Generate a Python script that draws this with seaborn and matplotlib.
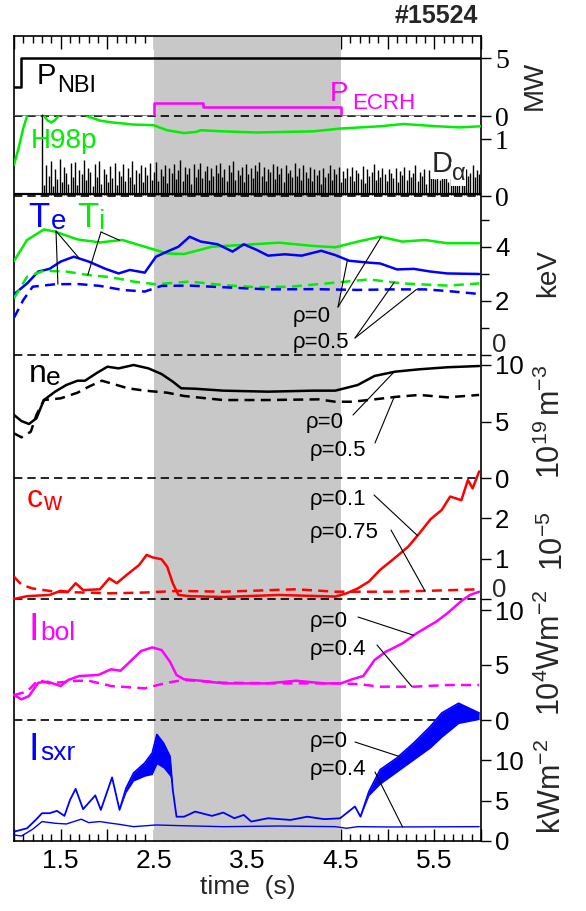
import numpy as np
import matplotlib
matplotlib.use('Agg')
import matplotlib.pyplot as plt
import seaborn as sns
from matplotlib.ticker import MultipleLocator, FuncFormatter

# ---------------- data ----------------
nbi_t = [1.0, 1.07, 6.0]
nbi_p = [2.5, 5.0, 5.0]
ecrh_t = [1.0, 2.5, 3.02, 4.5, 5.65]
ecrh_p = [0.0, 1.1, 0.76, 0.0, 0.0]

h98_t = [1.0, 1.05, 1.10, 1.14, 1.20, 1.28, 1.32, 1.36, 1.40, 1.44, 1.48, 1.55, 1.70, 1.78,
         1.92, 2.04, 2.28, 2.49, 2.64, 2.82, 2.95, 3.0, 3.24, 3.6, 4.2, 4.5, 4.92, 5.17, 5.53, 5.77, 6.0]
h98 = [0.55, 0.85, 1.2, 1.41, 1.6, 1.55, 1.42, 1.33, 1.30, 1.34, 1.42, 1.55, 1.55, 1.41,
       1.33, 1.30, 1.26, 1.25, 1.16, 1.11, 1.13, 1.16, 1.14, 1.12, 1.14, 1.19, 1.23, 1.27, 1.23, 1.21, 1.23]

da_t0, da_t1 = 1.30, 5.98
da_h = [1.45, .20, .55, .35, .62, .18, .48, .30, .66, .25, .52, .40, .22, .58, .33, .60, .19, .45, .38, .64,
        .28, .50, .42, .18, .56, .34, .61, .22, .47, .39, .25, .53, .31, .59, .20, .44, .36, .57, .27, .49,
        .33, .62, .21, .46, .40, .55, .24, .51, .37, .58, .29, .43, .60, .26, .48, .35, .54, .23, .50, .41,
        .57, .30, .45, .63, .27, .52, .38, .49, .22, .56, .34, .47, .59, .31, .44, .53, .28, .50, .36, .55,
        .40, .58, .33, .48, .26, .54, .42, .61, .29, .46, .37, .52, .24, .57, .39, .50, .32, .55, .44, .60,
        .35, .51, .27, .47, .42, .56, .30, .53, .38, .49, .25, .55, .41, .46, .33, .58, .36, .50, .28, .54,
        .43, .31, .52, .26, .48, .37, .45, .22, .50, .34, .41, .55, .29, .47, .38, .52, .24, .44, .32, .49,
        .36, .51, .27, .46, .40, .30, .53, .23, .48, .35, .42, .56, .28, .45, .33, .50, .38, .26, .47, .41,
        .31, .49, .25, .44, .37, .52, .29, .46, .34, .40, .55, .27, .43, .36, .48, .22, .45, .33, .51, .30,
        .42, .28, .47, .35, .53, .24, .45, .38, .50, .31, .44, .57, .26, .48, .36, .41, .55, .33, .46, .39]
da_base_t = [1.0, 6.0]
da_base = [0.04, 0.04]

ti0_t = [1.0, 1.14, 1.32, 1.44, 1.68, 1.92, 2.16, 2.40, 2.64, 2.82, 3.12, 3.84, 4.20, 4.44, 4.68, 4.92, 5.16, 5.40, 5.64, 5.98]
ti0 = [3.48, 4.26, 4.65, 4.57, 4.28, 4.17, 4.26, 4.01, 3.76, 3.74, 4.01, 4.16, 4.04, 3.99, 4.2, 4.38, 4.2, 4.26, 4.14, 4.14]
te0_t = [1.0, 1.14, 1.26, 1.38, 1.50, 1.64, 1.80, 1.98, 2.12, 2.24, 2.40, 2.52, 2.64, 2.76, 2.88, 3.00, 3.18, 3.34,
         3.46, 3.60, 3.72, 3.90, 4.08, 4.29, 4.44, 4.59, 4.80, 4.92, 5.10, 5.28, 5.46, 5.64, 5.98]
te0 = [2.25, 2.65, 3.09, 3.19, 3.46, 3.64, 3.46, 3.19, 3.02, 3.15, 3.05, 3.64, 3.83, 4.01, 4.38, 4.2, 4.1, 3.83,
       4.1, 3.89, 3.68, 3.73, 3.68, 3.86, 3.70, 3.49, 3.42, 3.39, 3.17, 3.19, 3.09, 3.02, 3.0]
ti05_t = [1.0, 1.14, 1.32, 1.56, 1.80, 2.04, 2.28, 2.52, 2.88, 3.24, 3.60, 3.96, 4.44, 4.80, 5.16, 5.64, 5.98]
ti05 = [2.1, 2.9, 3.12, 3.09, 2.96, 2.88, 2.72, 2.62, 2.72, 2.59, 2.51, 2.53, 2.68, 2.80, 2.65, 2.57, 2.65]
te05_t = [1.0, 1.10, 1.20, 1.44, 1.68, 1.92, 2.16, 2.40, 2.58, 2.88, 3.24, 3.72, 4.20, 4.68, 5.04, 5.40, 5.64, 5.98]
te05 = [1.38, 2.04, 2.53, 2.62, 2.63, 2.56, 2.41, 2.35, 2.56, 2.57, 2.51, 2.43, 2.44, 2.41, 2.43, 2.43, 2.37, 2.26]

ne0_t = [1.0, 1.08, 1.16, 1.24, 1.32, 1.44, 1.56, 1.68, 1.76, 1.88, 2.00, 2.12, 2.28, 2.44, 2.58, 2.70, 2.79, 2.94,
         3.24, 3.72, 4.20, 4.44, 4.68, 4.86, 5.08, 5.34, 5.64, 5.98]
ne0 = [5.58, 5.04, 4.78, 5.28, 6.9, 7.64, 8.23, 8.61, 8.61, 9.26, 9.85, 9.7, 10.0, 9.7, 9.2, 8.53, 7.94, 7.9,
       7.73, 7.64, 7.73, 7.73, 8.23, 9.03, 9.41, 9.62, 9.8, 9.91]
ne05_t = [1.0, 1.08, 1.18, 1.24, 1.32, 1.50, 1.68, 1.80, 1.94, 2.10, 2.22, 2.40, 2.64, 2.82, 3.06, 3.24, 3.72,
          4.26, 4.44, 4.62, 4.86, 5.10, 5.34, 5.64, 5.98]
ne05 = [3.95, 3.6, 4.1, 5.58, 6.9, 7.05, 7.55, 8.08, 8.61, 8.23, 7.94, 7.73, 7.55, 7.26, 7.05, 6.9, 6.9,
        6.96, 6.75, 6.75, 6.96, 7.19, 7.35, 7.14, 7.35]

cw01_t = [1.0, 1.14, 1.38, 1.50, 1.58, 1.66, 1.74, 1.92, 2.02, 2.10, 2.22, 2.34, 2.42, 2.48, 2.58, 2.64, 2.70, 2.76,
          2.88, 3.24, 3.84, 4.44, 4.56, 4.68, 4.80, 4.92, 5.07, 5.22, 5.34, 5.46, 5.58, 5.67, 5.79, 5.86, 5.91, 5.98]
cw01 = [0.0, 0.07, 0.1, 0.2, 0.18, 0.39, 0.22, 0.24, 0.51, 0.39, 0.62, 0.84, 1.09, 1.03, 0.98, 0.8, 0.39, 0.1,
        0.07, 0.05, 0.1, 0.06, 0.14, 0.26, 0.43, 0.72, 1.0, 1.29, 1.62, 1.97, 2.2, 2.53, 2.44, 2.94, 2.73, 3.15]
cw075_t = [1.0, 1.08, 1.20, 1.44, 2.04, 2.40, 2.76, 3.24, 4.02, 4.44, 5.04, 5.40, 5.98]
cw075 = [0.55, 0.35, 0.26, 0.18, 0.14, 0.16, 0.2, 0.18, 0.24, 0.18, 0.18, 0.2, 0.24]

ib0_t = [1.0, 1.08, 1.16, 1.26, 1.36, 1.50, 1.58, 1.70, 1.90, 2.04, 2.14, 2.26, 2.36, 2.48, 2.58, 2.67, 2.74, 2.82,
         3.0, 3.24, 3.72, 4.02, 4.32, 4.50, 4.62, 4.74, 4.86, 4.98, 5.16, 5.31, 5.52, 5.64, 5.78, 5.88, 5.98]
ib0 = [2.27, 1.88, 2.18, 3.39, 3.48, 3.09, 3.64, 4.0, 4.09, 4.61, 4.48, 5.45, 6.27, 6.6, 6.36, 5.3, 4.09, 3.7,
       3.57, 3.33, 3.33, 3.57, 3.33, 3.33, 3.7, 4.0, 5.45, 6.2, 6.97, 7.88, 8.94, 9.7, 10.75, 11.36, 11.66]
ib04_t = [1.0, 1.14, 1.26, 1.38, 1.68, 1.80, 2.04, 2.40, 2.64, 2.82, 3.24, 3.84, 4.44, 4.68, 4.92, 5.28, 5.64, 5.98]
ib04 = [2.27, 2.58, 3.64, 3.33, 3.57, 3.57, 3.09, 2.88, 3.39, 3.64, 3.39, 3.33, 3.33, 3.27, 3.03, 3.03, 3.18, 3.18]

sx_t = [1.0, 1.14, 1.24, 1.30, 1.38, 1.46, 1.54, 1.60, 1.66, 1.74, 1.87, 1.93, 2.05, 2.13, 2.20, 2.28, 2.40, 2.48,
        2.53, 2.60, 2.67, 2.70, 2.74, 2.82, 2.94, 3.12, 3.24, 3.36, 3.46, 3.54, 3.72, 3.96, 4.14, 4.32, 4.49, 4.56,
        4.65, 4.71, 4.80, 4.92, 5.10, 5.28, 5.46, 5.58, 5.76, 5.98]
sx0_hi = [1.15, 1.57, 2.69, 3.43, 3.43, 3.72, 3.1, 5.08, 6.44, 3.93, 5.63, 3.84, 7.85, 3.84, 6.53, 8.39, 9.63, 10.87,
          13.14, 12.1, 10.45, 6.32, 3.0, 3.0, 3.63, 3.1, 3.51, 2.81, 3.22, 2.4, 2.81, 2.6, 3.0, 2.7, 2.8, 3.43,
          4.26, 3.0, 6.1, 8.8, 10.25, 12.1, 14.16, 15.8, 17.0, 15.8]
sx0_lo = [1.15, 1.57, 2.69, 3.43, 3.43, 3.72, 3.1, 5.08, 6.44, 3.93, 5.63, 3.84, 7.85, 3.84, 6.0, 7.4, 8.0, 8.2,
          9.5, 9.0, 8.0, 6.32, 3.0, 3.0, 3.63, 3.1, 3.51, 2.81, 3.22, 2.4, 2.81, 2.6, 3.0, 2.7, 2.8, 3.43,
          4.26, 3.0, 5.6, 7.0, 8.5, 10.0, 11.5, 12.8, 14.5, 15.0]
sx04_t = [1.0, 1.08, 1.20, 1.30, 1.44, 1.56, 1.72, 1.80, 1.92, 2.04, 2.12, 2.28, 2.52, 2.76, 3.24, 3.84, 4.44, 4.56,
          4.68, 5.04, 5.98]
sx04 = [0.74, 0.62, 1.45, 2.4, 2.19, 2.1, 2.69, 2.27, 2.4, 2.19, 2.07, 1.77, 1.98, 1.9, 1.77, 1.85, 1.77, 1.57,
        1.77, 1.73, 1.77]

ecrh_window = (2.5, 4.5)
bottom_ticklabels = [1.5, 2.5, 3.5, 4.5, 5.5]

# ---------------- figure ----------------
W, H = 586, 911
sns.set_style('white')
plt.rcParams['font.family'] = ['Liberation Sans', 'DejaVu Sans']
plt.rcParams['mathtext.fontset'] = 'custom'
plt.rcParams['mathtext.rm'] = 'Liberation Sans'
plt.rcParams['mathtext.it'] = 'Liberation Sans:italic'
plt.rcParams['mathtext.default'] = 'regular'

GREEN, BLUE, RED, MAG = '#00ee00', '#0000ff', '#ff0000', '#ff00ff'
DASH = (0, (4, 2.5))
ZDASH = (0, (5, 3))

fig = plt.figure(figsize=(W / 100, H / 100), dpi=100)
XL, XR, YT, YB = 14, 481, 36, 841


def axes_px(top, bottom):
    return fig.add_axes([XL / W, 1 - bottom / H, (XR - XL) / W, (bottom - top) / H])


frame = axes_px(YT, YB)
frame.set_xlim(1, 6)
frame.set_ylim(0, 1)
frame.axvspan(*ecrh_window, color='#c8c8c8', lw=0)
frame.set_yticks([])
for s in frame.spines.values():
    s.set_linewidth(1.2)
    s.set_color('black')
frame.xaxis.set_major_locator(MultipleLocator(0.5))
frame.xaxis.set_minor_locator(MultipleLocator(0.1))
frame.xaxis.set_major_formatter(FuncFormatter(
    lambda v, p: f'{v:.1f}' if any(abs(v - b) < 1e-6 for b in bottom_ticklabels) else ''))
frame.tick_params(axis='x', which='both', direction='in', top=True, bottom=True, colors='black')
frame.tick_params(axis='x', which='major', length=9, width=1, labelsize=19, pad=6)
frame.tick_params(axis='x', which='minor', length=5, width=1)
frame.set_xlabel('time  (s)', fontsize=19, labelpad=1)


def panel(top, bottom, ylo, yhi, ticks, labels=None, minor=None, serif=False):
    ax = axes_px(top, bottom)
    ax.patch.set_visible(False)
    for s in ax.spines.values():
        s.set_visible(False)
    ax.set_xlim(1, 6)
    ax.set_ylim(ylo, yhi)
    ax.tick_params(axis='x', which='both', bottom=False, top=False, labelbottom=False)
    ax.yaxis.tick_right()
    ax.set_yticks(ticks, labels if labels is not None else [str(t) for t in ticks])
    if minor:
        ax.set_yticks(minor, minor=True)
    ax.tick_params(axis='y', which='both', direction='out', right=True, left=False,
                   labelright=True, labelleft=False, colors='black')
    ax.tick_params(axis='y', which='major', length=7, width=1, labelsize=20 if serif else 18.5, pad=3)
    ax.tick_params(axis='y', which='minor', length=6, width=1)
    if serif:
        ax.tick_params(axis='y', labelfontfamily='Liberation Serif')
    return ax


def line(ax, t, v, color, ls='-', lw=1.8, clip=True, **kw):
    sns.lineplot(x=np.asarray(t, float), y=np.asarray(v, float), ax=ax, color=color,
                 linestyle=ls, linewidth=lw, estimator=None, sort=False, clip_on=clip, **kw)
    ax.set_xlabel('')
    ax.set_ylabel('')


def zero(ax):
    ax.axhline(0, color='black', ls=ZDASH, lw=1.2, zorder=1, clip_on=False)


def leader(ax, start, t, tt, vv):
    y = float(np.interp(t, tt, vv))
    ax.annotate('', xy=(t, y), xycoords='data', xytext=(start[0], H - start[1]),
                textcoords='figure pixels', annotation_clip=False,
                arrowprops=dict(arrowstyle='-', color='black', lw=0.8, shrinkA=0, shrinkB=0))


def ftxt(x, y, s, size, color='black', **kw):
    fig.text(x / W, 1 - y / H, s, fontsize=size, color=color, va='baseline', ha='left', **kw)


def rtxt(x, y, s, size=19):
    fig.text(x / W, 1 - y / H, s, fontsize=size, rotation=90, ha='center', va='center')


# --- power panel
axP = panel(36, 116, 0, 80 / 11.6, [0, 5], serif=True)
zero(axP)
line(axP, nbi_t, nbi_p, 'black', lw=1.8, drawstyle='steps-post')
line(axP, ecrh_t, ecrh_p, MAG, lw=1.8, drawstyle='steps-post')

# --- H98 / D-alpha panel
axH = panel(116, 196, 0, 80 / 56.7, [0, 1], serif=True)
zero(axH)
da_t = np.linspace(da_t0, da_t1, len(da_h))
axH.vlines(da_t, 0.02, da_h, color='black', lw=1.0, clip_on=False)
line(axH, da_base_t, da_base, 'black', lw=1.6)
line(axH, h98_t, h98, GREEN, lw=1.8)

# --- temperature panel
axT = panel(196, 357, -2 / 27, 159 / 27, [0, 2, 4], ['', '2', '4'], minor=[1, 3, 5])
zero(axT)
line(axT, ti0_t, ti0, GREEN)
line(axT, te0_t, te0, BLUE)
line(axT, ti05_t, ti05, GREEN, ls=DASH)
line(axT, te05_t, te05, BLUE, ls=DASH)

# --- density panel
axN = panel(357, 478, 0, 121 / 11.3, [0, 5, 10])
zero(axN)
line(axN, ne0_t, ne0, 'black')
line(axN, ne05_t, ne05, 'black', ls=DASH)

# --- tungsten concentration panel
axC = panel(478, 599, 0, 121 / 40.5, [0, 1, 2], ['', '1', '2'])
zero(axC)
line(axC, cw01_t, cw01, RED, clip=False)
line(axC, cw075_t, cw075, RED, ls=DASH)

# --- bolometer panel
axB = panel(599, 720, 0, 121 / 11.0, [0, 5, 10])
zero(axB)
line(axB, ib0_t, ib0, MAG, clip=False)
line(axB, ib04_t, ib04, MAG, ls=DASH)

# --- soft X-ray panel
axS = panel(720, 841, 0, 121 / 8.1, [0, 5, 10])
axS.fill_between(sx_t, sx0_lo, sx0_hi, color=BLUE, lw=0, clip_on=False)
line(axS, sx_t, sx0_hi, BLUE, lw=1.3, clip=False)
line(axS, sx04_t, sx04, BLUE, lw=1.0)

for ax in (axP, axH, axT, axN, axC, axB, axS):
    ax.set_xlim(1, 6)

# manually raised zero labels
fig.text(492 / W, 1 - 345 / H, '0', fontsize=18.5, va='center', ha='left')
fig.text(492 / W, 1 - 590 / H, '0', fontsize=18.5, va='center', ha='left')

# --- labels
fig.text(478 / W, 1 - 16 / H, '#15524', fontsize=18, fontweight='bold', ha='right', va='center')

ftxt(37, 84, 'P', 21)
ftxt(57, 92, 'NBI', 17)
ftxt(330, 101, 'P', 20, MAG)
ftxt(352, 109, 'ECRH', 16, MAG)
ftxt(31, 148, 'H98p', 20, GREEN)
fig.text(432 / W, 1 - 172 / H, 'D', fontsize=21, va='baseline', ha='left',
         bbox=dict(fc='white', ec='none', pad=1))
fig.text(452 / W, 1 - 180 / H, 'α', fontsize=17, va='baseline', ha='left',
         bbox=dict(fc='white', ec='none', pad=0.5))

ftxt(28, 227, 'T', 25, BLUE)
ftxt(51, 229, 'e', 20, BLUE)
ftxt(77, 227, 'T', 25, GREEN)
ftxt(98, 229, 'i', 20, GREEN)
ftxt(29, 382, 'n', 23, 'black')
ftxt(46, 385, 'e', 19, 'black')
ftxt(27, 507, 'c', 23, RED)
ftxt(43, 510, 'w', 18, RED)
ftxt(29, 640, 'I', 27, MAG)
ftxt(40, 640, 'bol', 19, MAG)
ftxt(29, 760, 'I', 27, BLUE)
ftxt(40, 760, 'sxr', 19, BLUE)

RS = 16
ftxt(293, 322, 'ρ=0', RS)
ftxt(293, 348, 'ρ=0.5', RS)
ftxt(306, 428, 'ρ=0', RS)
ftxt(310, 456, 'ρ=0.5', RS)
ftxt(310, 505, 'ρ=0.1', RS)
ftxt(310, 538, 'ρ=0.75', RS)
ftxt(310, 627, 'ρ=0', RS)
ftxt(310, 655, 'ρ=0.4', RS)
ftxt(310, 747, 'ρ=0', RS)
ftxt(310, 775, 'ρ=0.4', RS)

# leader lines
leader(axT, (56, 231), 1.70, te0_t, te0)
leader(axT, (56, 231), 1.47, te05_t, te05)
leader(axT, (101, 232), 2.13, ti0_t, ti0)
leader(axT, (101, 232), 1.79, ti05_t, ti05)
leader(axT, (338, 307), 4.57, te0_t, te0)
leader(axT, (338, 307), 4.93, ti0_t, ti0)
leader(axT, (355, 338), 5.07, ti05_t, ti05)
leader(axT, (355, 338), 5.31, te05_t, te05)
leader(axN, (353, 415), 5.07, ne0_t, ne0)
leader(axN, (375, 443), 5.07, ne05_t, ne05)
leader(axC, (374, 495), 5.32, cw01_t, cw01)
leader(axC, (391, 530), 5.40, cw075_t, cw075)
leader(axB, (358, 617), 5.28, ib0_t, ib0)
leader(axB, (377, 645), 5.26, ib04_t, ib04)
leader(axS, (355, 742), 5.12, sx_t, sx0_hi)
leader(axS, (375, 772), 5.16, sx04_t, sx04)

# unit labels (right side, rotated)
rtxt(535, 85, 'MW', 20)
rtxt(548, 273, 'keV', 20)
rtxt(551, 422, r'$10^{19}\,m^{-3}$', 22)
rtxt(554, 541, r'$10^{-5}$', 22)
rtxt(551, 653, r'$10^{4}Wm^{-2}$', 22)
rtxt(552, 786, r'$kWm^{-2}$', 22)

fig.savefig('out.png', dpi=100)
